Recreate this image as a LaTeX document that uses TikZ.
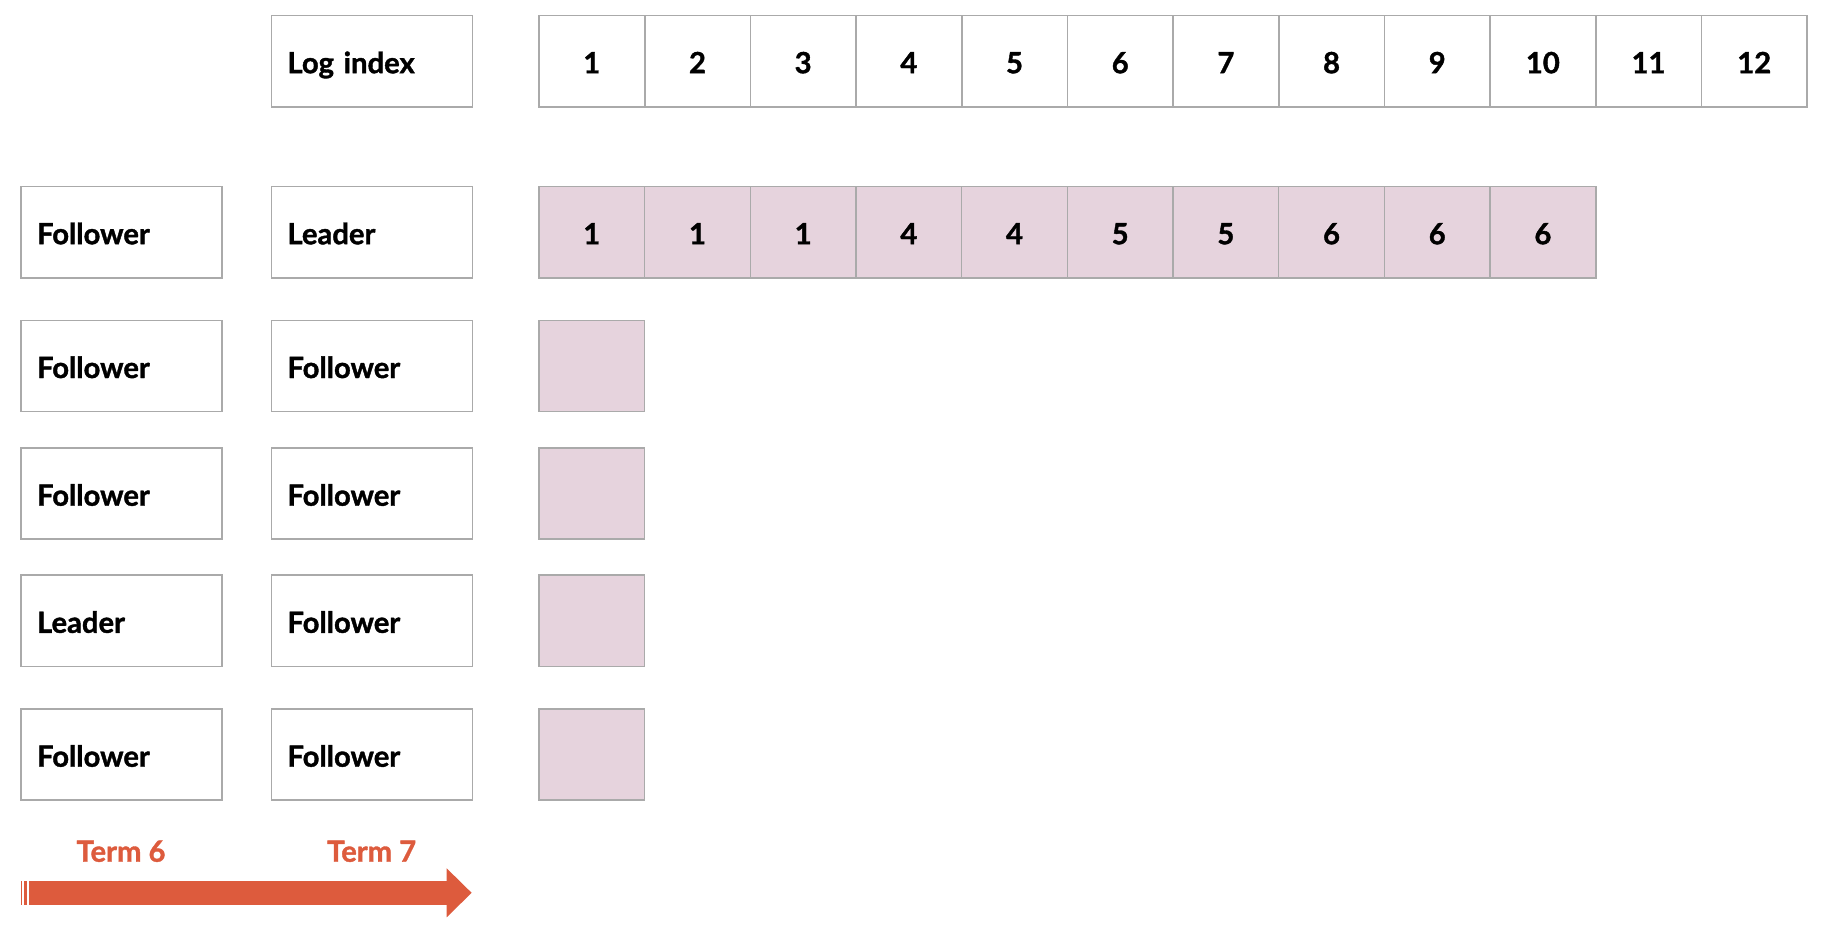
\documentclass[tikz,border=0pt]{standalone}
\usepackage{fontspec}
\setmainfont{Lato}[BoldFeatures={FakeBold=1.3}]
\usepackage{tikz}
\usetikzlibrary{arrows.meta}
\definecolor{cellpink}{HTML}{E6D3DD}
\definecolor{boxgray}{HTML}{AAAAAA}
\definecolor{termred}{HTML}{DD5B3D}
\tikzstyle{role} = [draw=boxgray, line width=0.45pt, minimum height=0.91cm, text width=1.687cm, inner xsep=0.16cm, align=left, text height=0.24cm, text depth=0pt, font=\bfseries\fontsize{8.3}{10}\selectfont]
\tikzstyle{cell} = [draw=boxgray, line width=0.45pt, minimum width=1.0567cm, minimum height=0.91cm, inner sep=0pt, text height=0.24cm, text depth=0pt, font=\bfseries\fontsize{8.3}{10}\selectfont]
\tikzstyle{entry} = [cell, fill=cellpink]
\tikzstyle{term} = [text=termred, anchor=base, inner sep=0pt, font=\bfseries\fontsize{8.3}{10}\selectfont]

\begin{document}
\begin{tikzpicture}[x=0.01cm, y=-0.01cm]
\useasboundingbox (0,0) rectangle (1830,930);
% log index row
\node [role] (logidx) at (371.9,61.2) {Log index};
\foreach \i in {1,...,12}
  \node [cell] (idx\i) at (539+\i*105.67-52.83,61.2) {\i};
% servers, term 6 and term 7
\node [role] (old1) at (121.5,232.2) {Follower};
\node [role] (old2) at (121.5,366) {Follower};
\node [role] (old3) at (121.5,493.7) {Follower};
\node [role] (old4) at (121.5,620.8) {Leader};
\node [role] (old5) at (121.5,754.7) {Follower};
\node [role] (new1) at (371.9,232.2) {Leader};
\node [role] (new2) at (371.9,366) {Follower};
\node [role] (new3) at (371.9,493.7) {Follower};
\node [role] (new4) at (371.9,620.8) {Follower};
\node [role] (new5) at (371.9,754.7) {Follower};
% logs
\foreach \t [count=\i] in {1,1,1,4,4,5,5,6,6,6}
  \node [entry] (lead\i) at (539+\i*105.67-52.83,232.2) {\t};
\node [entry] (log2) at (591.8,366) {};
\node [entry] (log3) at (591.8,493.7) {};
\node [entry] (log4) at (591.8,620.8) {};
\node [entry] (log5) at (591.8,754.7) {};
% time line
\node [term] (term6) at (121,861.7) {Term 6};
\node [term] (term7) at (371.7,861.7) {Term 7};
\coordinate (tstart) at (29,892.8);
\coordinate (tend) at (471.7,892.8);
\fill [termred] (21,880.7) rectangle (22.3,905);
\fill [termred] (24.3,880.7) rectangle (27.3,905);
\draw [termred, line width=0.243cm, -{Triangle[length=0.25cm, width=0.474cm]}] (tstart) -- (tend);
\end{tikzpicture}
\end{document}
